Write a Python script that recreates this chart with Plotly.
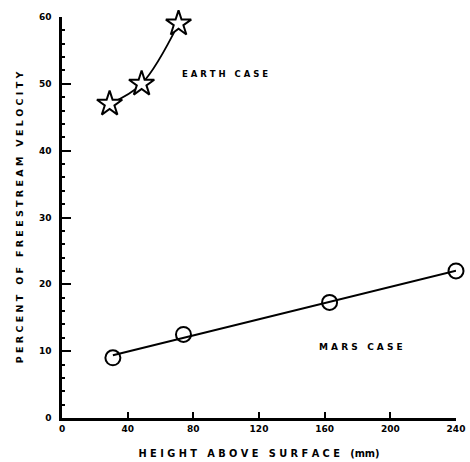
import numpy as np
import plotly.graph_objects as go

# Data
earth_x = [29, 48.5, 71]
earth_y = [47, 50, 59]
mars_x = [31, 74, 163, 240]
mars_y = [9, 12.5, 17.3, 22]
x_ticks = [0, 40, 80, 120, 160, 200, 240]
y_ticks = [0, 10, 20, 30, 40, 50, 60]

# linear fit for Mars line
coef = np.polyfit(mars_x, mars_y, 1)
fit_x = [min(mars_x), max(mars_x)]
fit_y = [coef[0] * v + coef[1] for v in fit_x]

fig = go.Figure()
fig.add_trace(go.Scatter(x=earth_x, y=earth_y, mode="lines",
                         line=dict(color="black", width=1.8, shape="spline"),
                         hoverinfo="skip", showlegend=False))
fig.add_trace(go.Scatter(x=earth_x, y=earth_y, mode="markers",
                         marker=dict(symbol="star", size=19, color="white",
                                     line=dict(color="black", width=2)),
                         showlegend=False, cliponaxis=False))
fig.add_trace(go.Scatter(x=fit_x, y=fit_y, mode="lines",
                         line=dict(color="black", width=2),
                         hoverinfo="skip", showlegend=False))
fig.add_trace(go.Scatter(x=mars_x, y=mars_y, mode="markers",
                         marker=dict(symbol="circle-open", size=15, color="black",
                                     line=dict(width=2)),
                         showlegend=False, cliponaxis=False))

fig.add_annotation(x=99, y=51.4, text="<b>E A R T H   C A S E</b>", showarrow=False,
                   font=dict(family="DejaVu Sans", size=8.5, color="black"))
fig.add_annotation(x=182, y=10.6, text="<b>M A R S   C A S E</b>", showarrow=False,
                   font=dict(family="DejaVu Sans", size=9, color="black"))

fig.update_xaxes(range=[0, 240], tickvals=x_ticks,
                 ticktext=[f"<b>{v}</b>" for v in x_ticks],
                 showgrid=False, zeroline=False, showline=True, linecolor="black", linewidth=2.5,
                 ticks="inside", ticklen=6, tickwidth=1.5, tickcolor="black",
                 tickfont=dict(family="DejaVu Sans", size=9, color="black"),
                 automargin=False,
                 title=dict(text="<b>H E I G H T   A B O V E   S U R F A C E   (mm)</b>",
                            font=dict(family="DejaVu Sans", size=9.8, color="black"), standoff=18))
fig.update_yaxes(range=[0, 60], tickvals=y_ticks,
                 ticktext=[f"<b>{v}</b>" for v in y_ticks],
                 showgrid=False, zeroline=False, showline=True, linecolor="black", linewidth=2.5,
                 ticks="inside", ticklen=9, tickwidth=2, tickcolor="black",
                 minor=dict(ticks="inside", ticklen=3, tickcolor="black", dtick=2),
                 tickfont=dict(family="DejaVu Sans", size=9, color="black"),
                 ticklabelstandoff=6, automargin=False,
                 title=dict(text="<b>P E R C E N T   O F   F R E E S T R E A M   V E L O C I T Y</b>",
                            font=dict(family="DejaVu Sans", size=9.5, color="black"), standoff=14))

fig.update_layout(width=470, height=462, plot_bgcolor="white", paper_bgcolor="white",
                  margin=dict(l=62, r=14, t=17, b=44))
fig.write_html("out.html", config={"displayModeBar": False},
               post_script="document.body.style.margin='0';document.body.style.overflow='hidden';")
